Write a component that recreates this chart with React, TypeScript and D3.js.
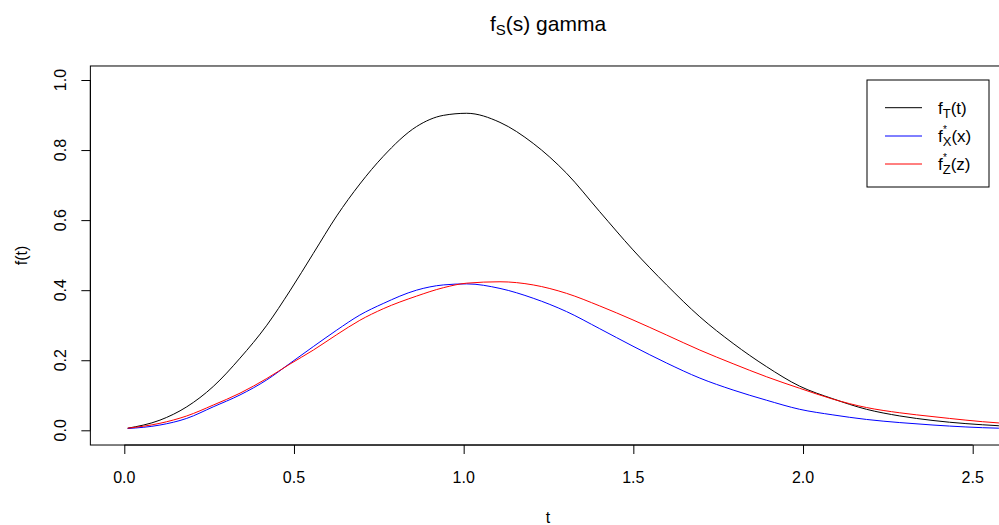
import React, { useEffect, useRef } from "react";
import * as d3 from "d3";

// values
const tValues = [0.01, 0.105, 0.184, 0.262, 0.341, 0.42, 0.488, 0.557, 0.626, 0.694, 0.763, 0.861, 0.94, 1.009, 1.107, 1.205, 1.303, 1.401, 1.499, 1.598, 1.696, 1.794, 1.892, 1.99, 2.088, 2.187, 2.285, 2.383, 2.577, 2.75];
const fT = [0.006, 0.029, 0.067, 0.125, 0.206, 0.3, 0.398, 0.505, 0.612, 0.703, 0.782, 0.867, 0.899, 0.905, 0.879, 0.819, 0.734, 0.624, 0.515, 0.415, 0.324, 0.248, 0.182, 0.126, 0.09, 0.06, 0.041, 0.028, 0.013, 0.007];
const fX = [0.005, 0.015, 0.034, 0.067, 0.101, 0.144, 0.191, 0.239, 0.286, 0.329, 0.362, 0.4, 0.415, 0.418, 0.405, 0.377, 0.339, 0.29, 0.24, 0.192, 0.149, 0.115, 0.086, 0.06, 0.044, 0.031, 0.022, 0.015, 0.006, 0.004];
const fZ = [0.006, 0.02, 0.041, 0.072, 0.106, 0.148, 0.189, 0.229, 0.273, 0.314, 0.347, 0.383, 0.407, 0.42, 0.424, 0.415, 0.391, 0.355, 0.315, 0.272, 0.229, 0.19, 0.153, 0.12, 0.089, 0.065, 0.05, 0.039, 0.021, 0.014];

const xTicks = [0, 0.5, 1, 1.5, 2, 2.5];
const yTicks = [0, 0.2, 0.4, 0.6, 0.8, 1];

const seriesNames = ["T", "X", "Z"];
const seriesArgs = ["t", "x", "z"];
const seriesColors = ["#000000", "#0000ff", "#ff0000"];

export default function App() {
  const ref = useRef<SVGSVGElement>(null);

  useEffect(() => {
    const svg = d3.select(ref.current);
    svg.selectAll("*").remove();
    const font = "Liberation Sans, Arial, sans-serif";
    const fmt = d3.format(".1f");

    const x = d3.scaleLinear().domain([0, 2.5]).range([124.3, 972.7]);
    const y = d3.scaleLinear().domain([0, 1]).range([430.3, 80]);

    const box = { left: x(-0.1), right: x(2.87), top: y(1.04), bottom: y(-0.042) };

    const series = [fT, fX, fZ];
    const line = d3
      .line<number>()
      .x((d, i) => x(tValues[i]))
      .y((d) => y(d))
      .curve(d3.curveMonotoneX);

    series.forEach((s, k) => {
      svg
        .append("path")
        .datum(s)
        .attr("fill", "none")
        .attr("stroke", seriesColors[k])
        .attr("stroke-width", 1)
        .attr("d", line);
    });

    svg
      .append("rect")
      .attr("x", box.left)
      .attr("y", box.top)
      .attr("width", box.right - box.left)
      .attr("height", box.bottom - box.top)
      .attr("fill", "none")
      .attr("stroke", "#000")
      .attr("stroke-width", 1);

    // x axis
    const xaxis = svg
      .append("g")
      .attr("transform", `translate(0,${box.bottom})`)
      .call(d3.axisBottom(x).tickValues(xTicks).tickSize(9).tickFormat(() => ""));
    xaxis.select(".domain").attr("d", `M${x(0)},0H${x(2.5)}`);
    svg
      .append("g")
      .selectAll("text")
      .data(xTicks)
      .join("text")
      .attr("x", (d) => x(d))
      .attr("y", 482.5)
      .attr("text-anchor", "middle")
      .attr("font-size", 16)
      .attr("font-family", font)
      .text((d) => fmt(d));

    // y axis
    const yaxis = svg
      .append("g")
      .attr("transform", `translate(${box.left},0)`)
      .call(d3.axisLeft(y).tickValues(yTicks).tickSize(9).tickFormat(() => ""));
    yaxis.select(".domain").attr("d", `M0,${y(0)}V${y(1)}`);
    svg
      .append("g")
      .selectAll("text")
      .data(yTicks)
      .join("text")
      .attr("transform", (d) => `translate(66,${y(d)}) rotate(-90)`)
      .attr("text-anchor", "middle")
      .attr("font-size", 16)
      .attr("font-family", font)
      .text((d) => fmt(d));

    // axis titles
    svg
      .append("text")
      .attr("x", 548)
      .attr("y", 523)
      .attr("text-anchor", "middle")
      .attr("font-size", 16)
      .attr("font-family", font)
      .text("t");
    svg
      .append("text")
      .attr("transform", `translate(27,${(box.top + box.bottom) / 2}) rotate(-90)`)
      .attr("text-anchor", "middle")
      .attr("font-size", 16)
      .attr("font-family", font)
      .text("f(t)");

    // title
    const title = svg
      .append("text")
      .attr("x", 548)
      .attr("y", 31)
      .attr("text-anchor", "middle")
      .attr("font-size", 21)
      .attr("font-family", font);
    title.append("tspan").text("f");
    title.append("tspan").attr("font-size", 15).attr("dy", 4).text("S");
    title.append("tspan").attr("dy", -4).text("(s) gamma");

    // legend
    svg
      .append("rect")
      .attr("x", 867)
      .attr("y", 80)
      .attr("width", 122)
      .attr("height", 107)
      .attr("fill", "#fff")
      .attr("stroke", "#000");
    const rows = [107.7, 136, 164];
    seriesNames.forEach((n, k) => {
      svg
        .append("line")
        .attr("x1", 885)
        .attr("x2", 922)
        .attr("y1", rows[k])
        .attr("y2", rows[k])
        .attr("stroke", seriesColors[k]);
      const t = svg
        .append("text")
        .attr("x", 938)
        .attr("y", rows[k] + 6)
        .attr("font-size", 17)
        .attr("font-family", font);
      t.append("tspan").text("f");
      if (k > 0) {
        svg
          .append("text")
          .attr("x", 943)
          .attr("y", rows[k] - 3)
          .attr("font-size", 10)
          .attr("font-family", font)
          .text("*");
      }
      t.append("tspan").attr("font-size", 13).attr("dy", 4).text(n);
      t.append("tspan").attr("dy", -4).text(`(${seriesArgs[k]})`);
    });

    return () => {
      svg.selectAll("*").remove();
    };
  }, []);

  return (
    <svg
      ref={ref}
      width={999}
      height={525}
      style={{ position: "absolute", left: 0, top: 0, background: "#fff" }}
    />
  );
}
